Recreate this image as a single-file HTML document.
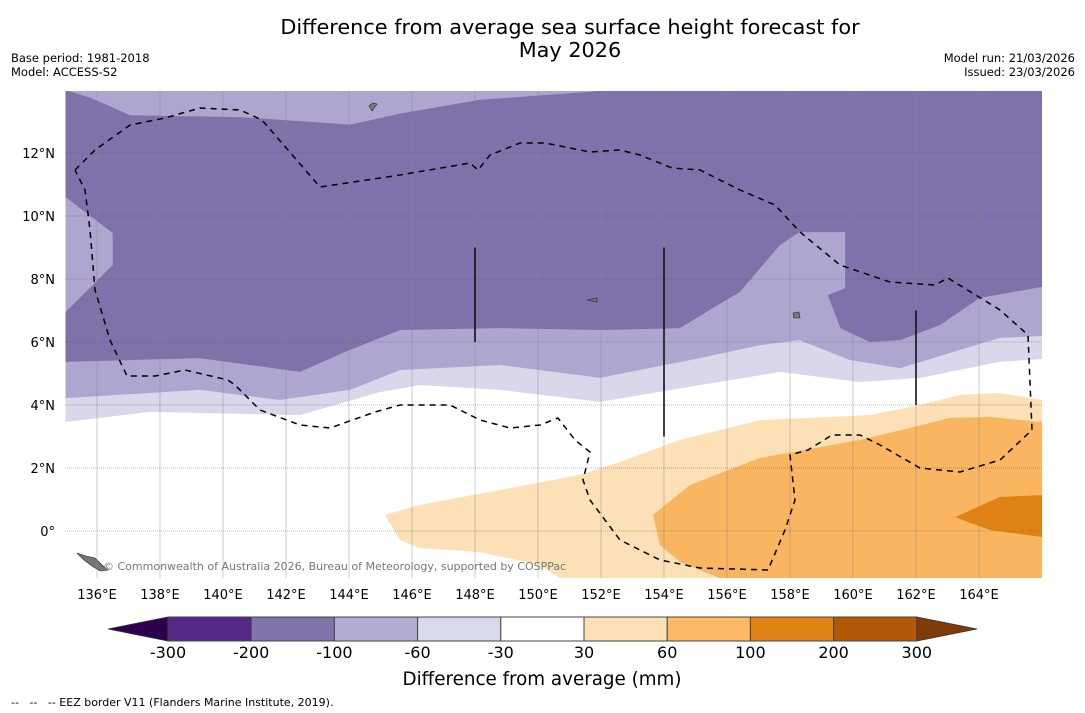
<!DOCTYPE html>
<html><head><meta charset="utf-8"><style>
body{margin:0;background:#fff;width:1085px;height:713px;overflow:hidden;font-family:"DejaVu Sans","Liberation Sans",sans-serif}
svg{position:absolute;left:0;top:0}
</style></head><body>
<svg id="s" width="1085" height="713" xmlns="http://www.w3.org/2000/svg">
<text x="570" y="34" text-anchor="middle" font-size="20.8">Difference from average sea surface height forecast for</text>
<text x="570" y="57" text-anchor="middle" font-size="20.8">May 2026</text>
<text x="11" y="62" font-size="11.5">Base period: 1981-2018</text>
<text x="11" y="76" font-size="11.5">Model: ACCESS-S2</text>
<text x="1075" y="62" font-size="11.5" text-anchor="end">Model run: 21/03/2026</text>
<text x="1075" y="76" font-size="11.5" text-anchor="end">Issued: 23/03/2026</text>
<defs><clipPath id="mc"><rect x="65" y="91" width="977" height="487"/></clipPath></defs>
<g id="map" clip-path="url(#mc)"></g>
<g id="axes"></g>
<g id="cbar"></g>
<text x="542" y="685" text-anchor="middle" font-size="18.3">Difference from average (mm)</text>
<text x="11" y="706" font-size="11" xml:space="preserve" style="white-space:pre">--   --   -- EEZ border V11 (Flanders Marine Institute, 2019).</text>
</svg>
<script>
const lonTicks=[136,138,140,142,144,146,148,150,152,154,156,158,160,162,164];
const latTicks=[0,2,4,6,8,10,12];
const cbLevels=[-300,-200,-100,-60,-30,30,60,100,200,300];
const cbColors=["#542788","#8073ac","#b2abd2","#d8daeb","#ffffff","#fee0b6","#fdb863","#e08214","#b35806"];
const lightPurple=[[135,14],[166,14],[166,-1.5],[135,-1.5]];
const darkPurple=[[135,6.95],[136.5,8.44],[136.5,9.46],[135,10.6],[135,14],[135.8,13.75],[137.05,13.2],[140.54,13.14],[144.03,12.9],[145.62,13.25],[148.16,13.69],[149.43,13.78],[151.65,13.94],[152,14],[166,14],[166,7.75],[164.03,7.4],[162.76,6.54],[161.5,6.06],[160.54,6.0],[159.6,6.44],[159.2,7.49],[159.75,7.71],[159.75,9.49],[158.3,9.49],[157.68,9.08],[156.41,7.59],[154.5,6.44],[152,6.38],[148.8,6.44],[145.62,6.38],[144.03,5.75],[142.44,5.05],[139.27,5.49],[135,5.37]];
const lavender=[[135,4.22],[139.27,4.48],[141.8,4.16],[144.03,4.48],[145.62,5.11],[148.8,5.27],[151.97,4.86],[155.14,5.49],[157.05,5.9],[158.3,6.06],[159.9,5.43],[161.5,5.17],[163.4,5.75],[164.66,6.13],[166,6.19],[166,-1.5],[135,-1.5]];
const whiteBand=[[135,3.46],[137.68,3.78],[142.44,3.68],[144.98,4.41],[146.25,4.63],[148.8,4.48],[151.97,4.1],[155.14,4.63],[157.68,5.05],[160.22,4.73],[162.13,4.86],[164.66,5.37],[166,5.46],[166,-1.5],[135,-1.5]];
const orange1=[[145.14,0.51],[146.25,0.83],[148.8,1.3],[151.33,1.78],[152.6,2.19],[154.5,2.89],[157.05,3.52],[160.54,3.68],[162.13,4.0],[163.4,4.32],[164.66,4.38],[166,4.16],[166,-1.5],[150.7,-1.5],[150.06,-1.08],[148.16,-0.67],[146.25,-0.54],[145.62,-0.29]];
const orange2=[[153.65,0.51],[154.83,1.46],[157.05,2.32],[160.22,2.89],[161.81,3.27],[163.08,3.59],[164.35,3.62],[166,3.46],[166,-1.5],[155.78,-1.5],[154.5,-0.98],[153.87,-0.44]];
const orange3=[[163.24,0.44],[164.66,1.08],[166,1.14],[166,-0.19],[164.35,0.03]];
const eezBorder=[[75,170],[95,150],[130,125],[165,118],[200,108],[240,110],[262,120],[320,187],[400,175],[470,163],[478,170],[490,155],[520,143],[545,143],[590,152],[620,150],[640,155],[672,168],[700,170],[740,190],[775,205],[800,232],[840,265],[890,282],[935,285],[948,278],[1000,310],[1028,335],[1032,430],[1000,460],[960,472],[920,468],[880,445],[860,435],[832,435],[808,450],[790,455],[795,500],[785,530],[768,570],[700,568],[660,560],[620,540],[590,500],[583,480],[590,452],[575,440],[558,418],[540,425],[510,428],[480,420],[450,405],[400,405],[375,412],[330,428],[300,425],[260,410],[235,385],[228,380],[185,370],[155,376],[127,376],[110,340],[95,290],[90,230],[85,190],[75,170]];
const NS="http://www.w3.org/2000/svg";
const X=lon=>65.5+(lon-135)*31.5, Y=lat=>531-lat*31.5;
function mk(tag,attrs,parent){const e=document.createElementNS(NS,tag);for(const k in attrs)e.setAttribute(k,attrs[k]);parent.appendChild(e);return e;}
const map=document.getElementById('map');
const layers=[[lightPurple,"#aea6cf","contour-minus100-minus60"],[darkPurple,"#7f72aa","contour-minus200-minus100"],[lavender,"#d8d8ea","contour-minus60-minus30"],[whiteBand,"#ffffff","contour-minus30-30"],[orange1,"#fde0b6","contour-30-60"],[orange2,"#f9b55f","contour-60-100"],[orange3,"#e08214","contour-100-200"]];
layers.forEach(([pts,c,n])=>{
 const p=mk('polygon',{points:pts.map(q=>X(q[0])+','+Y(q[1])).join(' '),fill:c},map);
 
 
});
const isl=mk('path',{d:"M77,553 L86,556 L95,558 L102,565 L108,570 L100,571 L92,566 L84,560 Z M369,106 L373,103 L377,104 L372,111 Z M587,300 L597,298 L597,302 Z M793,313 L799,312 L800,318 L794,318 Z",fill:"#777",stroke:"#222","stroke-width":"0.6"},map);


lonTicks.forEach(l=>{const g=mk('line',{x1:X(l),x2:X(l),y1:91,y2:578,stroke:"#888","stroke-width":"0.6",opacity:"0.7"},map);
 
 });
latTicks.forEach(l=>{const g=mk('line',{x1:65,x2:1042,y1:Y(l),y2:Y(l),stroke:"#555","stroke-width":"0.6","stroke-dasharray":"1,1",opacity:"0.8"},map);
 
 });
const eez=mk('polyline',{points:eezBorder.map(q=>q.join(',')).join(' '),fill:"none",stroke:"#000","stroke-width":"1.5","stroke-dasharray":"6,5"},map);


[[148,9,6],[154,9,3],[162,7,4]].forEach(v=>{const l=mk('line',{x1:X(v[0]),x2:X(v[0]),y1:Y(v[1]),y2:Y(v[2]),stroke:"#111","stroke-width":"1.6"},map);
 
 });
const cr=mk('text',{x:103,y:570,"font-size":"11","font-family":"DejaVu Sans, sans-serif",fill:"#777"},map);cr.textContent="© Commonwealth of Australia 2026, Bureau of Meteorology, supported by COSPPac";


const ax=document.getElementById('axes');
lonTicks.forEach(l=>{const t=mk('text',{x:X(l),y:599,"font-size":"13","text-anchor":"middle"},ax);t.textContent=l+"°E";
 
 });
latTicks.forEach(l=>{const t=mk('text',{x:55,y:Y(l)+5,"font-size":"13","text-anchor":"end"},ax);t.textContent=l===0?"0°":l+"°N";
 
 });
const cb=document.getElementById('cbar');
const cx0=168,cw=83.2,cy=617,ch=24;
const lt=mk('polygon',{points:`108,629 ${cx0},${cy} ${cx0},${cy+ch}`,fill:"#2d004b",stroke:"#333","stroke-width":"0.8"},cb);


const rx=cx0+cw*9;
const rt=mk('polygon',{points:`${rx},${cy} 977,629 ${rx},${cy+ch}`,fill:"#7f3b08",stroke:"#333","stroke-width":"0.8"},cb);


cbColors.forEach((c,i)=>{const r=mk('rect',{x:cx0+cw*i,y:cy,width:cw,height:ch,fill:c,stroke:"#444","stroke-width":"1"},cb);
 
 });
cbLevels.forEach((v,i)=>{const t=mk('text',{x:cx0+cw*i,y:658,"font-size":"16","text-anchor":"middle"},cb);t.textContent=v;
 
 });
</script>
</body></html>
